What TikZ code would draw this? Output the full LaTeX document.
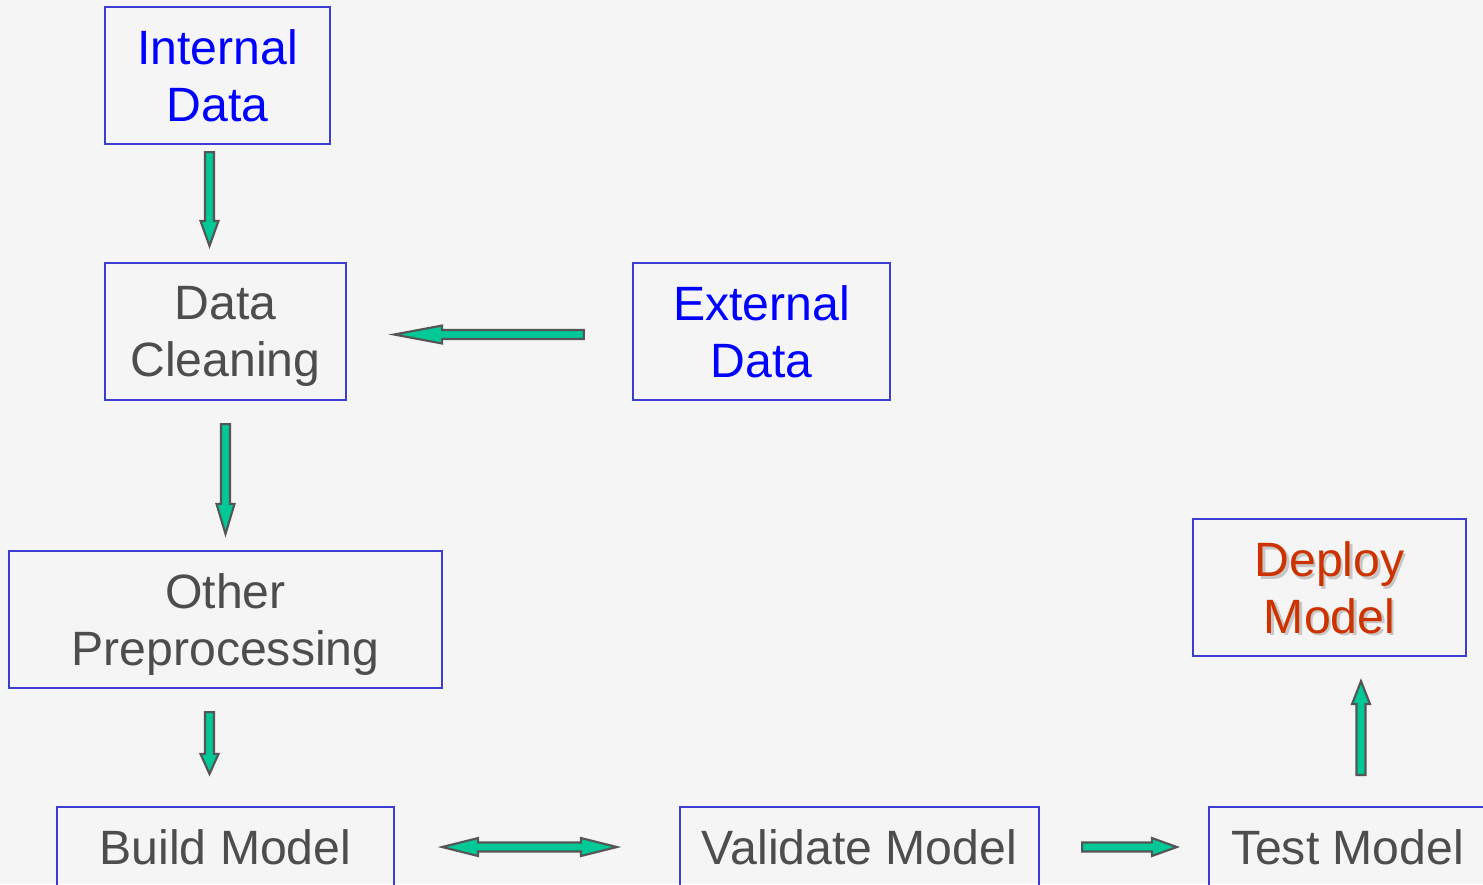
\documentclass[tikz,border=0pt]{standalone}
\usepackage{fontspec}
\setmainfont{Liberation Sans}
\usetikzlibrary{calc}

\definecolor{bgcol}{HTML}{F5F5F5}
\definecolor{boxblue}{HTML}{3C3CD0}
\definecolor{txtgray}{HTML}{4D4D4D}
\definecolor{srcblue}{HTML}{0000FF}
\definecolor{deployred}{HTML}{CC3300}
\definecolor{arrowfill}{HTML}{00C896}
\definecolor{arrowline}{HTML}{555555}

\tikzset{
  stage/.style={draw=boxblue, line width=0.6pt, align=center, text=txtgray,
    font=\fontsize{13.7}{16}\selectfont, text depth=0pt, minimum height=1.37cm},
  flowarrow/.style={fill=arrowfill, draw=arrowline, line width=0.6pt, line join=miter}
}

% text with a soft drop shadow
\newcommand{\shadowtxt}[1]{\rlap{\kern0.7pt\raisebox{-0.7pt}{\textcolor{black!22}{#1}}}#1}

% block arrow: start, tip, head length
\newcommand{\fatarrow}[3]{%
  \coordinate (fa-s) at #1;
  \coordinate (fa-t) at #2;
  \coordinate (fa-m) at ($(fa-t)!#3!(fa-s)$);
  \draw[flowarrow] ($(fa-s)!0.045cm!90:(fa-t)$) -- ($(fa-m)!0.045cm!90:(fa-t)$)
    -- ($(fa-m)!0.09cm!90:(fa-t)$) -- (fa-t) -- ($(fa-m)!0.09cm!-90:(fa-t)$)
    -- ($(fa-m)!0.045cm!-90:(fa-t)$) -- ($(fa-s)!0.045cm!-90:(fa-t)$) -- cycle;
}
% block arrow with two heads
\newcommand{\fatdblarrow}[3]{%
  \coordinate (fa-s) at #1;
  \coordinate (fa-t) at #2;
  \coordinate (fa-a) at ($(fa-s)!#3!(fa-t)$);
  \coordinate (fa-b) at ($(fa-t)!#3!(fa-s)$);
  \draw[flowarrow] (fa-s) -- ($(fa-a)!0.09cm!90:(fa-t)$) -- ($(fa-a)!0.045cm!90:(fa-t)$)
    -- ($(fa-b)!0.045cm!90:(fa-t)$) -- ($(fa-b)!0.09cm!90:(fa-t)$) -- (fa-t)
    -- ($(fa-b)!0.09cm!-90:(fa-t)$) -- ($(fa-b)!0.045cm!-90:(fa-t)$)
    -- ($(fa-a)!0.045cm!-90:(fa-t)$) -- ($(fa-a)!0.09cm!-90:(fa-t)$) -- cycle;
}

\begin{document}
\begin{tikzpicture}[x=0.01cm, y=-0.01cm]
    % Background and frame
    \fill[bgcol] (0,0) rectangle (1483,884);
    \useasboundingbox (0,0) rectangle (1483,884);
    \clip (0,0) rectangle (1483,884);

    % Stages
    \node[stage, minimum width=2.25cm, text=srcblue] (int) at (217.5,75.5) {Internal\\Data};
    \node[stage, minimum width=2.41cm] (clean) at (225.5,331.5) {Data\\Cleaning};
    \node[stage, minimum width=2.57cm, text=srcblue] (ext) at (761.5,331.5) {External\\Data};
    \node[stage, minimum width=4.33cm] (other) at (225.5,619.5) {Other\\Preprocessing};
    \node[stage, minimum width=2.73cm, text=deployred] (deploy) at (1329.5,587.5) {\shadowtxt{Deploy}\\\shadowtxt{Model}};
    \node[stage, minimum width=3.37cm, minimum height=0.8cm] (build) at (225.5,847) {Build Model};
    \node[stage, minimum width=3.59cm, minimum height=0.8cm] (val) at (859.5,847) {Validate Model};
    \node[stage, minimum width=2.77cm, minimum height=0.8cm] (test) at (1347.5,847) {Test Model};

    % Flow arrows
    \fatarrow{($(int.south)+(-8,7)$)}{($(clean.north)+(-16,-16)$)}{0.25cm}
    \fatarrow{($(ext.west)+(-48,3)$)}{($(clean.east)+(47,3)$)}{0.48cm}
    \fatarrow{($(clean.south)+(0,23)$)}{($(other.north)+(0,-16)$)}{0.3cm}
    \fatarrow{($(other.south)+(-16,23)$)}{($(build.north)+(-16,-32)$)}{0.2cm}
    \fatdblarrow{($(build.east)+(47,0)$)}{($(val.west)+(-62,0)$)}{0.36cm}
    \fatarrow{($(val.east)+(42,0)$)}{($(test.west)+(-31,0)$)}{0.25cm}
    \fatarrow{($(test.north)+(13.5,-31)$)}{($(deploy.south)+(31.5,24)$)}{0.23cm}
\end{tikzpicture}
\end{document}
